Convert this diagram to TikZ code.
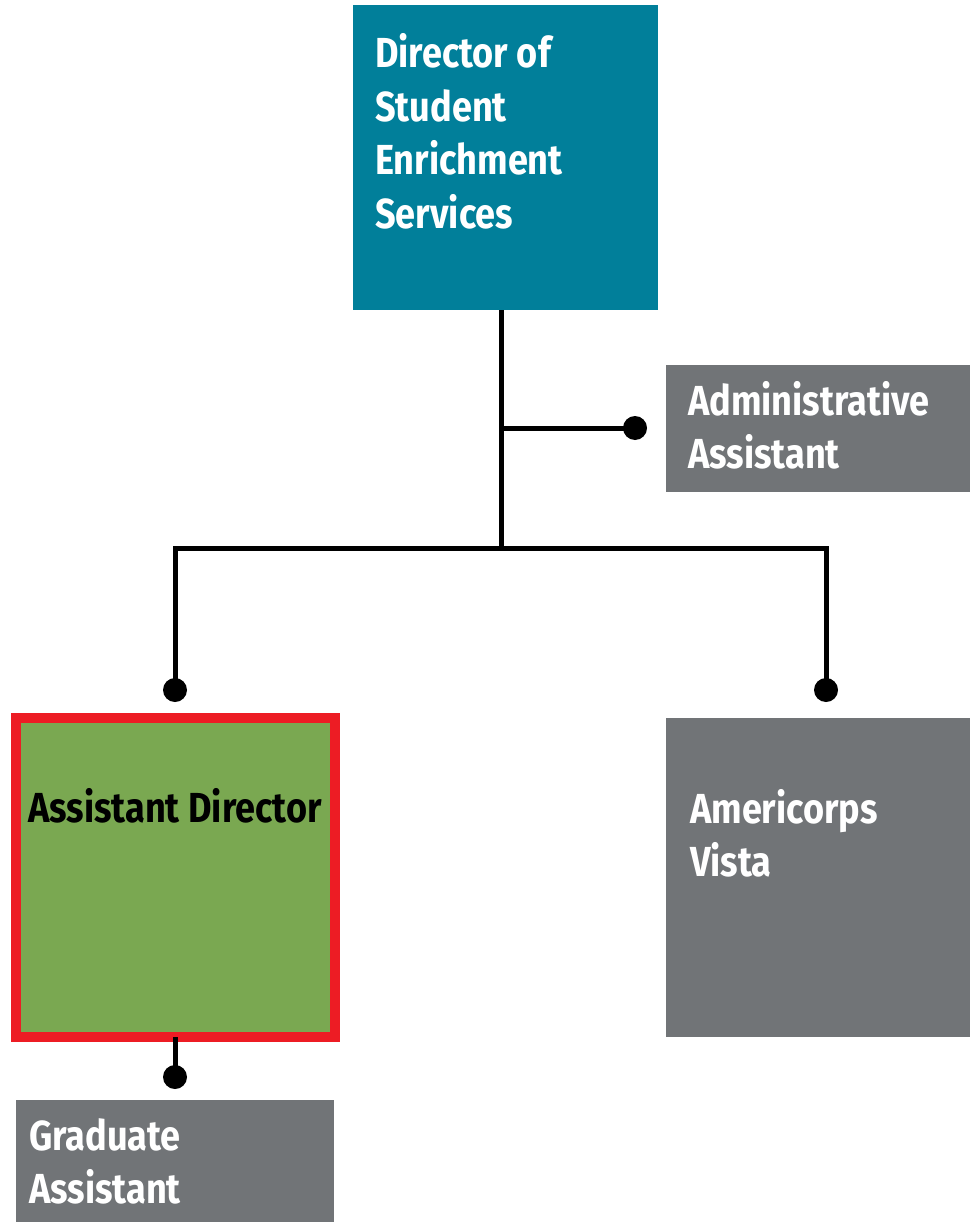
\documentclass[tikz,border=0pt]{standalone}
\usepackage{fontspec}
\setmainfont[FakeStretch=0.86]{Fira Sans}
\usetikzlibrary{positioning}
\definecolor{teal1}{RGB}{1,127,154}
\definecolor{gray1}{RGB}{113,116,119}
\definecolor{green1}{RGB}{122,168,81}
\definecolor{red1}{RGB}{237,28,36}
\newcommand{\lbllines}[1]{\begin{tabular}[t]{@{}l@{}}#1\end{tabular}}
\tikzset{
  box/.style={draw=none, inner sep=0pt, outer sep=0pt, anchor=north west},
  lbl/.style={anchor=base west, inner sep=0pt, text=white,
    font=\fontsize{42}{53.5}\selectfont\bfseries},
  conn/.style={line width=5pt, draw=black},
  dot/.style={circle, fill=black, inner sep=0pt, outer sep=0pt, minimum size=24pt},
}
\begin{document}
\begin{tikzpicture}[x=1pt,y=-1pt]
\useasboundingbox (0,0) rectangle (970,1222);
% boxes
\node[box, fill=teal1, minimum width=305pt, minimum height=305pt] (dir) at (353,5) {};
\node[box, fill=gray1, minimum width=304pt, minimum height=127pt] (admin) at (666,365) {};
\node[box, fill=green1, draw=red1, line width=10pt, minimum width=319pt, minimum height=319pt] (asst) at (16,718) {};
\node[box, fill=gray1, minimum width=304pt, minimum height=319pt] (amer) at (666,718) {};
\node[box, fill=gray1, minimum width=318pt, minimum height=122pt] (grad) at (16,1100) {};
% labels
\def\arraystretch{1}
\node[lbl] (dirtext) at (375,68) {\lbllines{Director of\\Student\\Enrichment\\Services}};
\node[lbl] (admintext) at (688,415) {\lbllines{Administrative\\Assistant}};
\node[lbl, text=black] (assttext) at (28,822) {Assistant Director};
\node[lbl] (amertext) at (690,823) {\lbllines{Americorps\\Vista}};
\node[lbl] (gradtext) at (29,1150) {\lbllines{Graduate\\Assistant}};
% junctions and dots
\coordinate (jA) at (501,428);
\coordinate (jB) at (501,548);
\node[dot] (dotAdmin) at (635,428) {};
\node[dot] (dotL) at (175,690) {};
\node[dot] (dotR) at (826,690) {};
\node[dot] (dotG) at (175,1077) {};
% connectors
\draw[conn] (jB |- dir.south) -- (jB);
\draw[conn] (jA) -- (dotAdmin.center);
\draw[conn] (dotL.center) |- (jB) -| (dotR.center);
\draw[conn] (dotG |- asst.south) -- (dotG.center);
\end{tikzpicture}
\end{document}
